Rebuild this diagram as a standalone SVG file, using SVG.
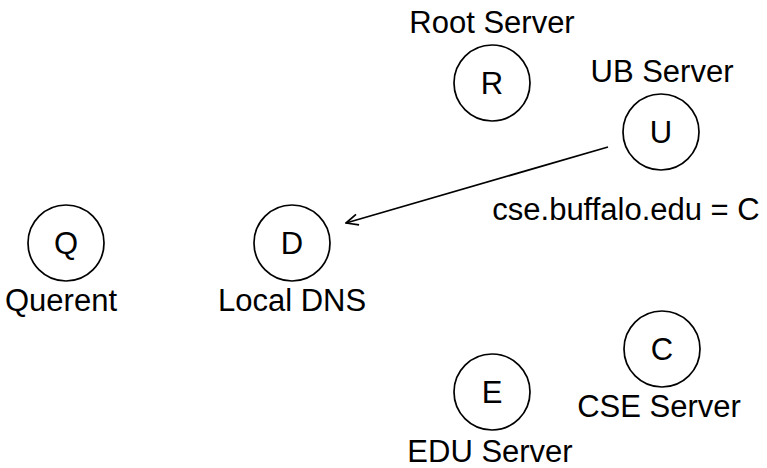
<svg xmlns="http://www.w3.org/2000/svg" width="767" height="468" viewBox="0 0 767 468">
<style>
.n{fill:#fff;stroke:#000;stroke-width:1.7}
.t{font-family:"Liberation Sans",Arial,sans-serif;font-size:31px;fill:#000;text-anchor:middle}
.c{stroke:#000;stroke-width:1.7;fill:none}
</style>
<defs>
<marker id="ah" viewBox="0 0 14 14" refX="13" refY="7" markerWidth="14" markerHeight="14" markerUnits="userSpaceOnUse" orient="auto">
<path d="M1,1.5 L13,7 L1,12.5" fill="none" stroke="#000" stroke-width="1.7"/>
</marker>
</defs>
<rect width="767" height="468" fill="#fff"/>
<g id="connectors">
<line class="c" x1="608" y1="147" x2="346" y2="223" marker-end="url(#ah)"/>
</g>
<g id="R"><circle class="n" cx="492" cy="83" r="38"/><text class="t" x="492" y="94">R</text><text class="t" x="492" y="33">Root Server</text></g>
<g id="U"><circle class="n" cx="661" cy="132" r="38"/><text class="t" x="661" y="143">U</text><text class="t" x="662" y="82">UB Server</text></g>
<g id="Q"><circle class="n" cx="66" cy="243" r="38"/><text class="t" x="66" y="254">Q</text><text class="t" x="61" y="311">Querent</text></g>
<g id="D"><circle class="n" cx="292" cy="243" r="38"/><text class="t" x="292" y="254">D</text><text class="t" x="292" y="311">Local DNS</text></g>
<g id="C"><circle class="n" cx="662" cy="349" r="38"/><text class="t" x="662" y="360">C</text><text class="t" x="659" y="417">CSE Server</text></g>
<g id="E"><circle class="n" cx="492" cy="392" r="38"/><text class="t" x="492" y="403">E</text><text class="t" x="490" y="462">EDU Server</text></g>
<text class="t" x="626" y="220">cse.buffalo.edu = C</text>
</svg>
